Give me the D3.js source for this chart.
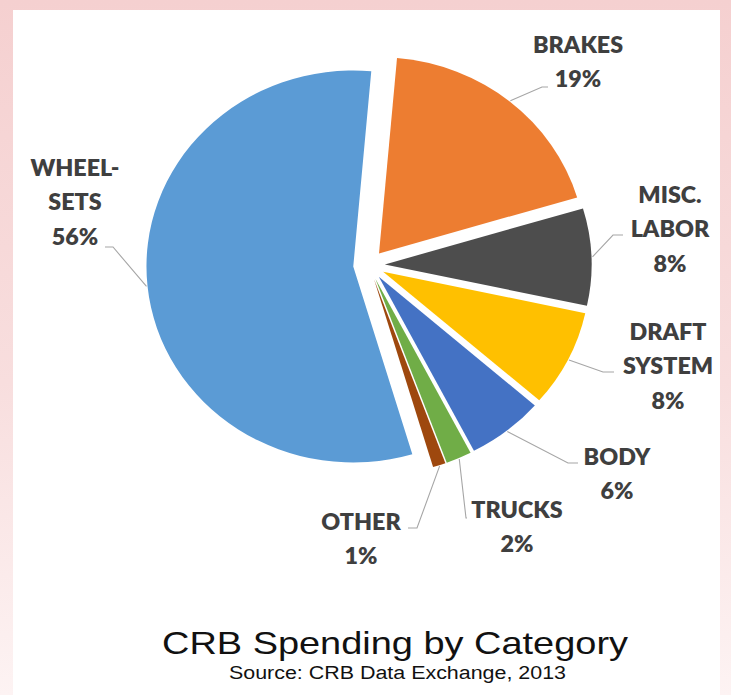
<!DOCTYPE html>
<html>
<head>
<meta charset="utf-8">
<script src="https://cdn.jsdelivr.net/npm/d3@7"></script>
<style>
  html, body { margin: 0; padding: 0; background: #fff; }
  svg { display: block; }
</style>
</head>
<body>
<div id="chart"></div>
<script>
// Spending categories, clockwise from the top of the pie
const categories = ["BRAKES", "MISC. LABOR", "DRAFT SYSTEM", "BODY", "TRUCKS", "OTHER", "WHEEL-SETS"];
const shares = [19, 8, 8, 6, 2, 1, 56];
const labelLines = [["BRAKES"], ["MISC.", "LABOR"], ["DRAFT", "SYSTEM"], ["BODY"], ["TRUCKS"], ["OTHER"], ["WHEEL-", "SETS"]];
const colors = ["#ED7D31", "#4D4D4D", "#FFC000", "#4472C4", "#70AD47", "#9E480E", "#5B9BD5"];

const W = 731, H = 695;
const cx = 369, cy = 265;
const radius = 196;
const explode = 15;
const sx = 1.055;           // horizontal stretch of the pie
const startDeg = 5;

// label block placement (centre x, first-line y) and leader elbows
const labelLayout = [
  { x: 578, y: 53,  elbow: [542, 87],  end: [548, 87] },
  { x: 670, y: 203, elbow: [613, 235], end: [623, 235] },
  { x: 668, y: 340, elbow: [603, 372], end: [614, 372] },
  { x: 617, y: 465, elbow: [568, 463], end: [578, 463] },
  { x: 517, y: 518, elbow: [466, 518], end: [467, 518] },
  { x: 361, y: 530, elbow: [417, 528], end: [408, 528] },
  { x: 75,  y: 176, elbow: [113, 247], end: [105, 247] }
];
const lineGap = 34.5;

const svg = d3.select("#chart").append("svg")
  .attr("width", W).attr("height", H);

// pink frame with a white panel
const defs = svg.append("defs");
const grad = defs.append("linearGradient").attr("id", "frame")
  .attr("x1", 0).attr("y1", 0).attr("x2", 0).attr("y2", 1);
grad.append("stop").attr("offset", "0%").attr("stop-color", "#f5d0d0");
grad.append("stop").attr("offset", "55%").attr("stop-color", "#f8dede");
grad.append("stop").attr("offset", "100%").attr("stop-color", "#fdf3f3");
svg.append("rect").attr("width", W).attr("height", H).attr("fill", "url(#frame)");
svg.append("rect").attr("x", 13).attr("y", 10).attr("width", 707).attr("height", H - 10).attr("fill", "#fff");

const data = categories.map((c, i) => ({ name: c, value: shares[i], i }));
const pie = d3.pie().sort(null).value(d => d.value)
  .startAngle(startDeg * Math.PI / 180)
  .endAngle((startDeg + 360) * Math.PI / 180);
const arcs = pie(data);
const arc = d3.arc().innerRadius(0).outerRadius(radius);

const pieG = svg.append("g")
  .attr("transform", `translate(${cx},${cy}) scale(${sx},1)`);

pieG.selectAll("path").data(arcs).join("path")
  .attr("d", arc)
  .attr("fill", d => colors[d.data.i])
  .attr("transform", d => {
    const a = (d.startAngle + d.endAngle) / 2;
    return `translate(${explode * Math.sin(a)},${-explode * Math.cos(a)})`;
  });

// leader lines: from the outer edge at the slice's middle angle to the label
function edgePoint(d) {
  const a = (d.startAngle + d.endAngle) / 2;
  const r = radius + explode + 1;
  return [cx + sx * r * Math.sin(a), cy - r * Math.cos(a)];
}
svg.append("g").selectAll("path").data(arcs).join("path")
  .attr("fill", "none")
  .attr("stroke", "#a6a6a6")
  .attr("stroke-width", 1.1)
  .attr("d", d => {
    const L = labelLayout[d.data.i];
    return d3.line()([edgePoint(d), L.elbow, L.end]);
  });

// category labels with percentages
const labels = svg.append("g")
  .attr("font-family", "Lato, 'Open Sans', sans-serif")
  .attr("font-weight", 800)
  .attr("font-size", 22)
  .attr("fill", "#3f3f3f")
  .attr("text-anchor", "middle");

arcs.forEach(d => {
  const L = labelLayout[d.data.i];
  const lines = labelLines[d.data.i].concat([d.data.value + "%"]);
  const t = labels.append("text")
    .attr("transform", `translate(${L.x},${L.y}) scale(1.06,1)`);
  lines.forEach((s, k) => {
    t.append("tspan").attr("x", 0).attr("y", k * lineGap).text(s);
  });
});

// title and source
svg.append("text")
  .attr("x", 162).attr("y", 654)
  .attr("font-family", "'Liberation Sans', Arial, sans-serif")
  .attr("font-size", 32)
  .attr("fill", "#111")
  .attr("textLength", 466)
  .attr("lengthAdjust", "spacingAndGlyphs")
  .text("CRB Spending by Category");

svg.append("text")
  .attr("x", 229).attr("y", 679)
  .attr("font-family", "'Liberation Sans', Arial, sans-serif")
  .attr("font-size", 18)
  .attr("fill", "#111")
  .attr("textLength", 337)
  .attr("lengthAdjust", "spacingAndGlyphs")
  .text("Source: CRB Data Exchange, 2013");
</script>
</body>
</html>
